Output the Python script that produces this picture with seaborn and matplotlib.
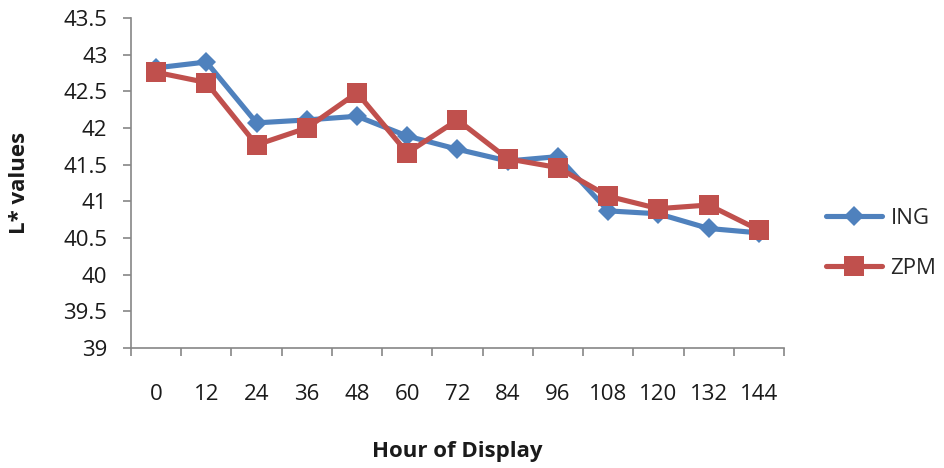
import matplotlib
matplotlib.use("Agg")
import matplotlib.pyplot as plt
import matplotlib.ticker as mticker
import seaborn as sns
import pandas as pd

hours = [0, 12, 24, 36, 48, 60, 72, 84, 96, 108, 120, 132, 144]
ing = [42.82, 42.90, 42.07, 42.11, 42.16, 41.89, 41.71, 41.55, 41.61, 40.87, 40.83, 40.63, 40.57]
zpm = [42.76, 42.62, 41.77, 42.00, 42.48, 41.66, 42.11, 41.58, 41.46, 41.07, 40.90, 40.95, 40.61]
y_ticks = [39, 39.5, 40, 40.5, 41, 41.5, 42, 42.5, 43, 43.5]

sns.set_theme(style="white")
plt.rcParams['font.family'] = ['Open Sans', 'DejaVu Sans']

df = pd.DataFrame({"hour": hours * 2,
                   "L": ing + zpm,
                   "series": ["ING"] * len(hours) + ["ZPM"] * len(hours)})

fig = plt.figure(figsize=(9.45, 4.68), dpi=100)
ax = fig.add_axes([131 / 945, 1 - 348 / 468, 653 / 945, 330 / 468])

sns.lineplot(data=df[df.series == "ING"], x="hour", y="L", color="#4F81BD",
             marker="D", markersize=10.5, markeredgewidth=0, linewidth=3.7,
             label="ING", ax=ax)
sns.lineplot(data=df[df.series == "ZPM"], x="hour", y="L", color="#C0504D",
             marker="s", markersize=14, markeredgewidth=0, linewidth=3.7,
             label="ZPM", ax=ax)

ax.set_xlim(-6, 150)
ax.set_ylim(39, 43.5)
ax.set_xticks(hours)
ax.set_xticklabels([str(h) for h in hours])
ax.set_xticks([h - 6 for h in hours] + [150], minor=True)
ax.set_yticks(y_ticks)
ax.yaxis.set_major_formatter(mticker.FuncFormatter(lambda v, p: f"{v:g}"))

spine_c = "#868686"
for s in ["top", "right"]:
    ax.spines[s].set_visible(False)
for s in ["left", "bottom"]:
    ax.spines[s].set_color(spine_c)
    ax.spines[s].set_linewidth(1.2)

ax.tick_params(axis="x", which="major", length=0, pad=26, labelsize=16, labelcolor="#1a1a1a")
ax.tick_params(axis="x", which="minor", length=6, width=1.2, color=spine_c, bottom=True, direction="out")
ax.tick_params(axis="y", which="major", length=6, width=1.2, color=spine_c, pad=11, labelsize=16,
               labelcolor="#1a1a1a", left=True, direction="out")

ax.set_xlabel("Hour of Display", fontsize=16, fontweight="bold", color="#1a1a1a")
ax.set_ylabel("L* values", fontsize=16, fontweight="bold", color="#1a1a1a")
ax.xaxis.set_label_coords(0.5, -0.283)
ax.yaxis.set_label_coords(-0.155, 0.5)

ax.legend(loc="center left", bbox_to_anchor=(826 / 945, 1 - 243.5 / 468),
          bbox_transform=fig.transFigure, frameon=False, fontsize=16,
          borderpad=0, borderaxespad=0, handlelength=2.5, handletextpad=0.4,
          labelspacing=1.3)

fig.savefig("out.png", dpi=100)
